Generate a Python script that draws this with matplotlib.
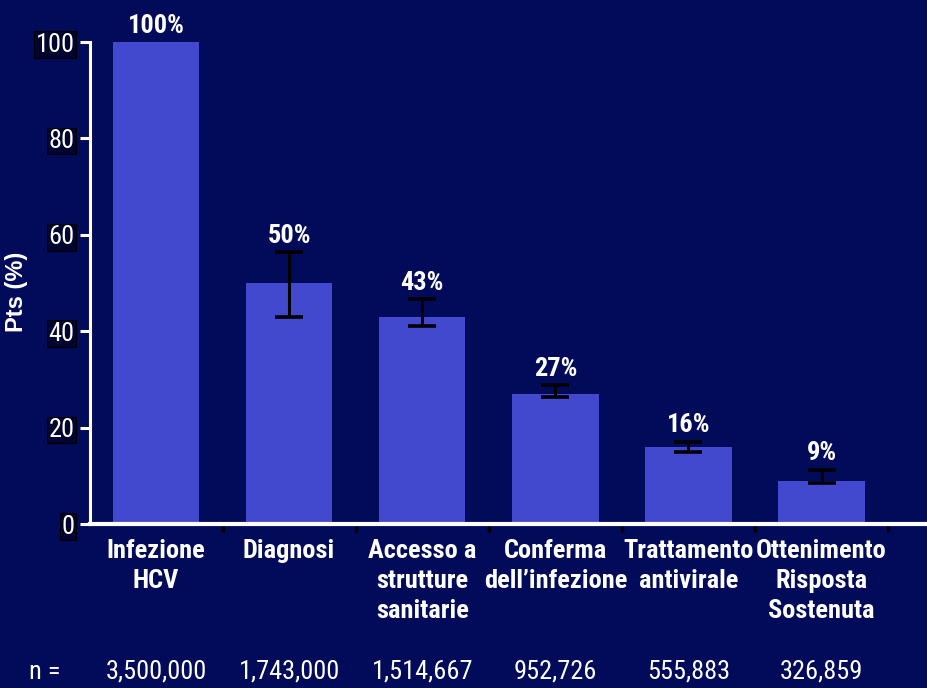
import matplotlib

matplotlib.use("Agg")
import matplotlib.pyplot as plt
from matplotlib import font_manager

# Cascata di cura HCV
CATEGORIES = [
    "Infezione\nHCV",
    "Diagnosi",
    "Accesso a\nstrutture\nsanitarie",
    "Conferma\ndell\u2019infezione",
    "Trattamento\nantivirale",
    "Ottenimento\nRisposta\nSostenuta",
]
PCT = [100, 50, 43, 27, 16, 9]
CI_LOW = [None, 43, 41, 26.3, 15.0, 8.6]
CI_HIGH = [None, 56.5, 46.6, 28.9, 17.1, 11.3]
N_VALUES = ["3,500,000", "1,743,000", "1,514,667", "952,726", "555,883", "326,859"]

BG = "#010b59"
BAR = "#4349cf"


def pick_font(prefs, need_bold=False):
    weights = {}
    for f in font_manager.fontManager.ttflist:
        w = f.weight if isinstance(f.weight, int) else 400
        weights.setdefault(f.name, set()).add(w)
    for p in prefs:
        if p in weights and (not need_bold or max(weights[p]) >= 700):
            return p
    return "Liberation Sans"


NARROW_PREFS = ["Liberation Sans Narrow", "Arial Narrow", "Nimbus Sans Narrow",
                "Roboto Condensed", "PT Sans Narrow", "Archivo Narrow",
                "Barlow Semi Condensed"]
NARROW = pick_font(NARROW_PREFS)
NARROW_BOLD = pick_font(NARROW_PREFS, need_bold=True)

fig = plt.figure(figsize=(9.28, 6.88), dpi=100, facecolor=BG)
ax = fig.add_axes([90 / 928, 1 - 524 / 688, 1 - 90 / 928, 482 / 688], facecolor=BG)

x = list(range(len(PCT)))
ax.bar(x, PCT, width=0.65, color=BAR, zorder=2)

for i in x:
    if CI_LOW[i] is None:
        continue
    ax.errorbar(i, PCT[i], yerr=[[PCT[i] - CI_LOW[i]], [CI_HIGH[i] - PCT[i]]],
                fmt="none", ecolor="black", elinewidth=2.2, capsize=10, capthick=2.6, zorder=3)

for i in x:
    top = PCT[i] if CI_HIGH[i] is None else CI_HIGH[i]
    ax.annotate(f"{PCT[i]}%", (i, top), xytext=(0, 3), textcoords="offset points",
                ha="center", va="bottom", color="white", fontsize=19,
                fontweight="bold", family=NARROW_BOLD, annotation_clip=False)

ax.set_xlim(-0.496, 5.8)
ax.set_ylim(0, 100)

for s in ("top", "right"):
    ax.spines[s].set_visible(False)
ax.spines["left"].set_color("white")
ax.spines["left"].set_linewidth(2.2)
ax.spines["bottom"].set_color("white")
ax.spines["bottom"].set_linewidth(3)

ax.set_yticks([0, 20, 40, 60, 80, 100])
ax.tick_params(axis="y", colors="white", length=7, width=2.2, pad=4)
for lab in ax.get_yticklabels():
    lab.set_family(NARROW)
    lab.set_fontsize(19)
    lab.set_bbox(dict(boxstyle="square,pad=0.05", fc="#00042e", ec="#000000", lw=0.8))

ax.set_xticks(x)
ax.set_xticklabels(CATEGORIES, color="white", fontsize=19, fontweight="bold",
                   family=NARROW_BOLD, linespacing=1.32)
ax.tick_params(axis="x", length=0, pad=11)
ax.set_xticks([i + 0.5 for i in x], minor=True)
ax.tick_params(axis="x", which="minor", length=6, width=2.5, color="black")

ax.set_ylabel("Pts (%)", color="white", fontsize=17, fontweight="bold",
              family="Liberation Sans")
ax.yaxis.set_label_coords(-0.074, 0.481)

# riga con il numero di pazienti
fig.text(45 / 928, 1 - 672 / 688, "n =", color="white", fontsize=19,
         family=NARROW, ha="center", va="center")
for i in x:
    xf = ax.transData.transform((i, 0))[0] / fig.bbox.width
    fig.text(xf, 1 - 672 / 688, N_VALUES[i], color="white", fontsize=19,
             family=NARROW, ha="center", va="center")

fig.savefig("out.png", dpi=100, facecolor=BG)
